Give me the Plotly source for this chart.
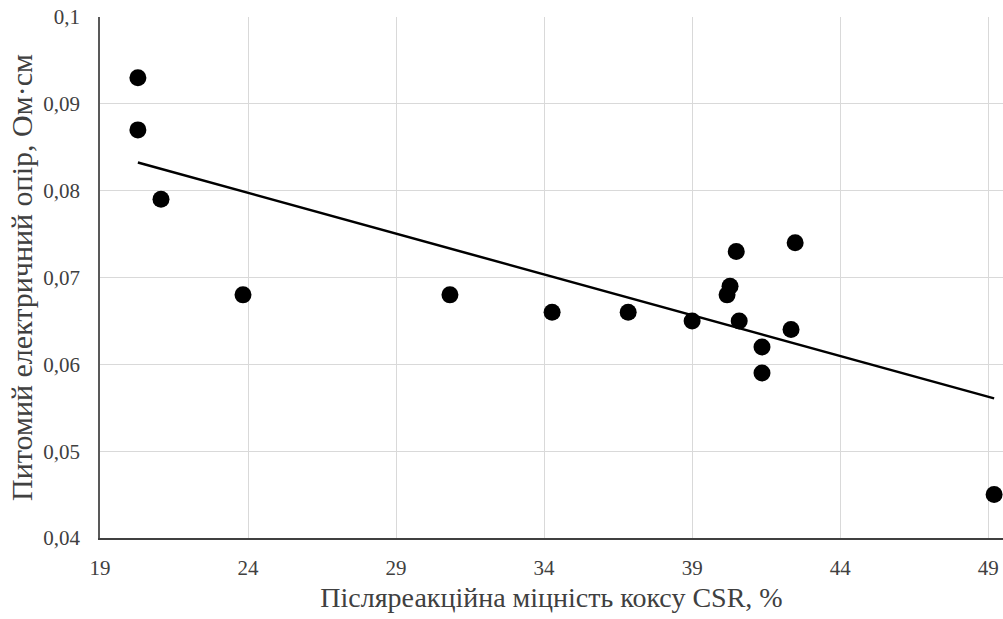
import numpy as np
import plotly.graph_objects as go

csr = [20.28, 20.28, 21.06, 23.83, 30.82, 34.27, 36.84, 39.0, 40.18, 40.28, 40.49, 40.59, 41.36, 41.36, 42.34, 42.48, 49.2]
resist = [0.093, 0.087, 0.079, 0.068, 0.068, 0.066, 0.066, 0.065, 0.068, 0.069, 0.073, 0.065, 0.062, 0.059, 0.064, 0.074, 0.045]
x_ticks = [19, 24, 29, 34, 39, 44, 49]
y_ticks = [0.04, 0.05, 0.06, 0.07, 0.08, 0.09, 0.1]
y_tick_labels = ["0,04", "0,05", "0,06", "0,07", "0,08", "0,09", "0,1"]

slope, intercept = np.polyfit(csr, resist, 1)
tx = [min(csr), max(csr)]
ty = [slope * v + intercept for v in tx]

font = "Liberation Serif, Times New Roman, serif"
fig = go.Figure()
fig.add_trace(go.Scatter(x=tx, y=ty, mode="lines", line=dict(color="black", width=2.5), showlegend=False))
fig.add_trace(go.Scatter(x=csr, y=resist, mode="markers", marker=dict(color="black", size=17), showlegend=False))

fig.update_layout(
    width=1003, height=619,
    margin=dict(l=100, r=0, t=17, b=81),
    paper_bgcolor="white", plot_bgcolor="white",
    font=dict(family=font, color="#404040", size=21),
)
fig.update_xaxes(range=[19, 49.5], tickvals=x_ticks, ticktext=[str(v) for v in x_ticks],
                 showgrid=True, gridcolor="#d9d9d9", gridwidth=1,
                 showline=True, linecolor="#404040", linewidth=2, zeroline=False,
                 ticks="", ticklabelstandoff=10,
                 title=dict(text="Післяреакційна міцність коксу CSR, %", font=dict(size=28, family=font, color="#404040"), standoff=8))
fig.update_yaxes(range=[0.04, 0.1], tickvals=y_ticks, ticktext=y_tick_labels,
                 showgrid=True, gridcolor="#d9d9d9", gridwidth=1,
                 showline=True, linecolor="#595959", linewidth=1.5, zeroline=False,
                 ticks="", ticklabelstandoff=14,
                 title=dict(text="Питомий електричний опір, Ом·см", font=dict(size=30, family=font, color="#404040"), standoff=2))
fig.write_html("out.html")
